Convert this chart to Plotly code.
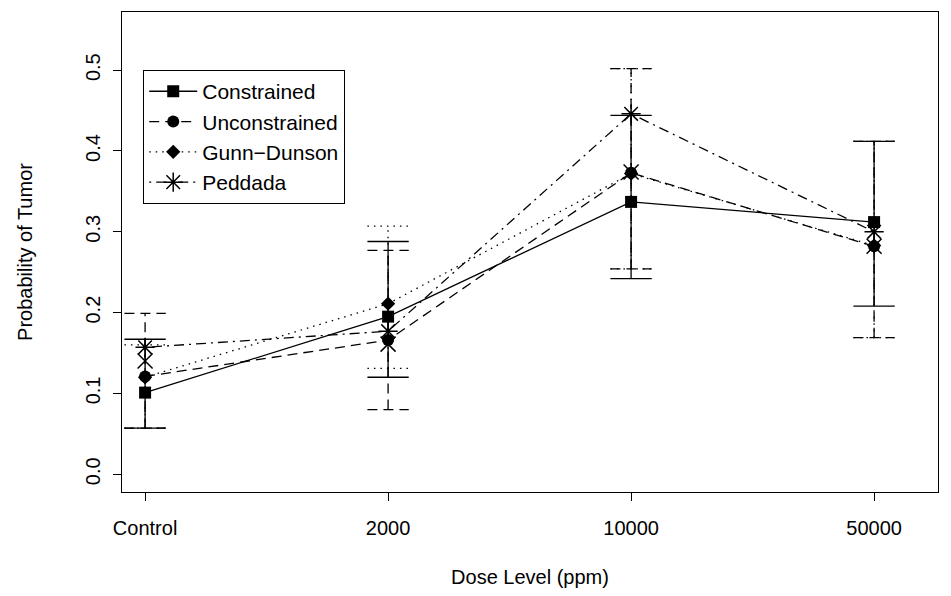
import plotly.graph_objects as go

doses = ["Control", "2000", "10000", "50000"]
xpos = [1, 2, 3, 4]

constrained = [0.101, 0.195, 0.337, 0.312]
constrained_lo = [0.057, 0.120, 0.242, 0.208]
constrained_hi = [0.167, 0.288, 0.444, 0.412]

unconstrained = [0.121, 0.166, 0.373, 0.282]
unconstrained_lo = [0.057, 0.080, 0.254, 0.169]
unconstrained_hi = [0.199, 0.277, 0.502, 0.412]

gunn_dunson = [0.120, 0.211, 0.372, 0.283]
gunn_dunson_lo = [0.057, 0.131, 0.254, 0.169]
gunn_dunson_hi = [0.160, 0.307, 0.502, 0.412]

peddada = [0.157, 0.177, 0.446, 0.300]
extra_x = [0.140, 0.161, 0.374, 0.282]

yticks = [0.0, 0.1, 0.2, 0.3, 0.4, 0.5]
ytick_labels = ["0.0", "0.1", "0.2", "0.3", "0.4", "0.5"]

FONT = "Liberation Sans, Arial, Helvetica, sans-serif"
FS = 20
LFS = 21
CAP = 0.085
LW = 1.3

DASH = "10px,6px"
DOT = "1.5px,5px"
DASHDOT = "2px,5px,10px,5px"

fig = go.Figure()


def add_ci(lo, hi, dash):
    xs, ys = [], []
    for x, l, h in zip(xpos, lo, hi):
        xs += [x, x, None, x - CAP, x + CAP, None, x - CAP, x + CAP, None]
        ys += [l, h, None, l, l, None, h, h, None]
    fig.add_trace(go.Scatter(x=xs, y=ys, mode="lines", showlegend=False,
                             hoverinfo="skip",
                             line=dict(color="black", width=LW, dash=dash)))


add_ci(unconstrained_lo, unconstrained_hi, DASH)
add_ci(gunn_dunson_lo, gunn_dunson_hi, DOT)
add_ci(constrained_lo, constrained_hi, "solid")

fig.add_trace(go.Scatter(x=xpos, y=extra_x, mode="markers", showlegend=False,
                         marker=dict(symbol="x-thin-open", size=15, color="black",
                                     line=dict(color="black", width=1.5))))

fig.add_trace(go.Scatter(x=xpos, y=gunn_dunson, mode="lines+markers", name="Gunn\u2212Dunson",
                         legendrank=3,
                         line=dict(color="black", width=LW, dash=DOT),
                         marker=dict(symbol="diamond", size=11, color="black")))
fig.add_trace(go.Scatter(x=xpos, y=peddada, mode="lines+markers", name="Peddada",
                         legendrank=4,
                         line=dict(color="black", width=LW, dash=DASHDOT),
                         marker=dict(symbol="asterisk-open", size=16, color="black",
                                     line=dict(color="black", width=1.5))))
fig.add_trace(go.Scatter(x=xpos, y=unconstrained, mode="lines+markers", name="Unconstrained",
                         legendrank=2,
                         line=dict(color="black", width=LW, dash=DASH),
                         marker=dict(symbol="circle", size=12, color="black")))
fig.add_trace(go.Scatter(x=xpos, y=constrained, mode="lines+markers", name="Constrained",
                         legendrank=1,
                         line=dict(color="black", width=LW, dash="solid"),
                         marker=dict(symbol="square", size=12, color="black")))

fig.update_layout(
    width=951, height=596,
    margin=dict(l=114, r=21, t=4, b=112),
    paper_bgcolor="white", plot_bgcolor="white",
    font=dict(family=FONT, size=FS, color="black"),
    legend=dict(x=0.026, y=0.879, xanchor="left", yanchor="top",
                bgcolor="white", bordercolor="black", borderwidth=1,
                itemwidth=48,
                font=dict(family=FONT, size=LFS, color="black")),
    showlegend=True,
)

fig.update_xaxes(range=[0.905, 4.263], tickvals=xpos, ticktext=doses,
                 automargin=False,
                 showgrid=False, zeroline=False, showline=True, mirror=True,
                 linecolor="black", linewidth=1, ticks="outside", ticklen=8,
                 tickcolor="black", ticklabelstandoff=10,
                 title=dict(text="Dose Level (ppm)", standoff=31,
                            font=dict(family=FONT, size=FS)))
fig.update_yaxes(range=[-0.022, 0.572], tickvals=yticks, ticktext=ytick_labels,
                 tickangle=-90, automargin=False,
                 showgrid=False, zeroline=False, showline=True, mirror=True,
                 linecolor="black", linewidth=1, ticks="outside", ticklen=8,
                 tickcolor="black", ticklabelstandoff=5,
                 title=dict(text="Probability of Tumor", standoff=44,
                            font=dict(family=FONT, size=FS)))

fig.write_html("out.html")
